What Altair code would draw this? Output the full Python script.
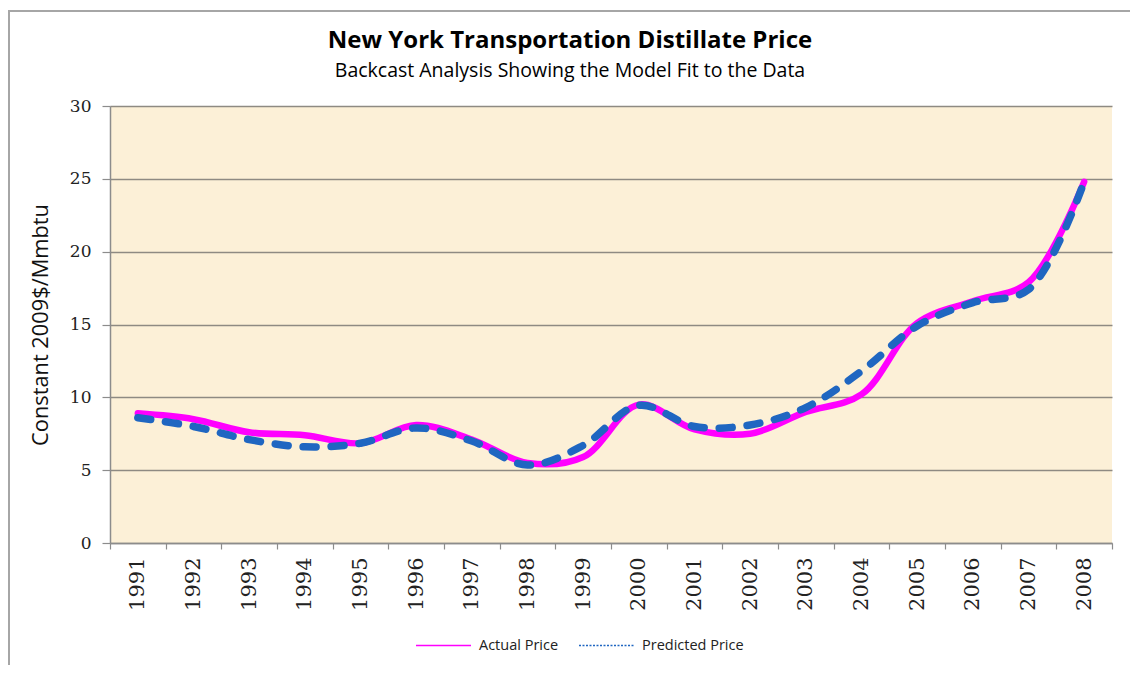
import altair as alt
import pandas as pd

years = [str(y) for y in range(1991, 2009)]
actual = [8.9, 8.5, 7.6, 7.4, 6.85, 8.1, 7.1, 5.5, 5.9, 9.5, 7.8, 7.5, 9.0, 10.2, 15.1, 16.6, 17.9, 24.8]
predicted = [8.6, 8.0, 7.1, 6.6, 6.85, 7.9, 7.0, 5.35, 6.7, 9.45, 8.0, 8.1, 9.3, 11.8, 14.9, 16.5, 17.4, 24.8]

df_a = pd.DataFrame({"Year": years, "Price": actual, "Series": "Actual Price"})
df_p = pd.DataFrame({"Year": years, "Price": predicted, "Series": "Predicted Price"})

W, H = 1002, 437
PL, PT, PR, PB = 102, 98, 18, 122

x_enc = alt.X("Year:O", sort=years,
              scale=alt.Scale(type="band", paddingInner=0, paddingOuter=0),
              axis=alt.Axis(title=None, labelAngle=-90, labelFont="DejaVu Serif",
                            labelFontSize=21, labelColor="#222222", labelPadding=8,
                            tickBand="extent", tickSize=6, tickColor="#8C8C8C",
                            tickWidth=1.2, domainColor="#8C8C8C", domainWidth=1.5,
                            grid=False))
y_enc = alt.Y("Price:Q", scale=alt.Scale(domain=[0, 30], nice=False),
              axis=alt.Axis(title="Constant 2009$/Mmbtu", values=[0, 5, 10, 15, 20, 25, 30],
                            labelFont="DejaVu Serif", labelFontSize=17, labelColor="#222222",
                            labelPadding=11, tickSize=8, tickColor="#8C8C8C", tickWidth=1.2,
                            domainColor="#8C8C8C", domainWidth=1.5,
                            grid=True, gridColor="#8E8A82", gridWidth=1.5,
                            titleFont="Open Sans", titleFontSize=21.8, titleFontWeight="normal",
                            titleColor="#111111", titlePadding=17))


def leg(x, dash):
    return alt.Legend(title=None, orient="none", direction="horizontal",
                      legendX=x, legendY=511, symbolType="stroke",
                      symbolSize=3025, symbolStrokeWidth=1.5, symbolDash=dash,
                      labelFont="Open Sans", labelFontSize=14.5, labelColor="#222222",
                      labelOffset=7)


line_a = alt.Chart(df_a).mark_line(
    strokeWidth=6.5, strokeCap="round", interpolate="catmull-rom"
).encode(
    x=x_enc, y=y_enc,
    color=alt.Color("Series:N", scale=alt.Scale(domain=["Actual Price"], range=["#FF00FF"]),
                    legend=leg(305, [1, 0])),
)

line_p = alt.Chart(df_p).mark_line(
    strokeWidth=7.5, strokeCap="round", interpolate="catmull-rom", strokeDash=[13, 15]
).encode(
    x=x_enc, y=y_enc,
    color=alt.Color("Series:N", scale=alt.Scale(domain=["Predicted Price"], range=["#1F66C1"]),
                    legend=leg(468, [2, 1.5])),
)

frame = alt.Chart(alt.Data(values=[{"f": 1}])).mark_rect(
    fill=None, stroke="#A6A6A6", strokeWidth=2
).encode(
    x=alt.value(-101), x2=alt.value(W + 60),
    y=alt.value(-95), y2=alt.value(H + 200),
)

chart = alt.layer(frame, line_a, line_p).resolve_scale(
    color="independent"
).resolve_legend(color="independent").properties(
    width=W, height=H,
    autosize=alt.AutoSizeParams(type="none"),
    padding={"left": PL, "top": PT, "right": PR, "bottom": PB},
    title=alt.TitleParams(
        text="New York Transportation Distillate Price",
        subtitle="Backcast Analysis Showing the Model Fit to the Data",
        font="Open Sans", fontSize=24, fontWeight="bold", color="#000000",
        subtitleFont="Open Sans", subtitleFontSize=19.5, subtitleColor="#000000",
        subtitlePadding=9, anchor="middle", frame="group", dx=-41, dy=70, offset=0,
    ),
).configure(background="white").configure_view(
    fill="#FCF0D7", stroke=None
)

chart.save("out.html", embed_options={"renderer": "svg", "actions": False})
